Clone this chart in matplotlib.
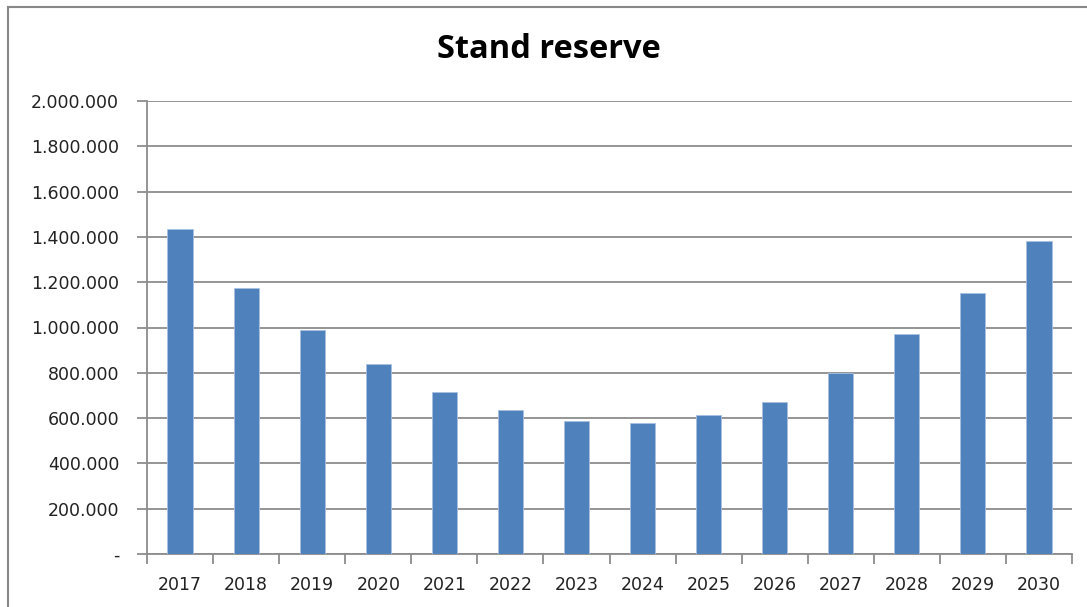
import matplotlib
matplotlib.use("Agg")
import matplotlib.pyplot as plt
from matplotlib.lines import Line2D
from matplotlib.ticker import FuncFormatter, FixedLocator

years = ["2017", "2018", "2019", "2020", "2021", "2022", "2023",
         "2024", "2025", "2026", "2027", "2028", "2029", "2030"]
reserve = [1434000, 1176000, 987000, 837000, 717000, 637000, 589000,
           580000, 615000, 673000, 798000, 973000, 1154000, 1380000]
y_ticks = [0, 200000, 400000, 600000, 800000, 1000000, 1200000,
           1400000, 1600000, 1800000, 2000000]

plt.rcParams['font.family'] = ['DejaVu Sans']

W, H = 1087, 607
fig = plt.figure(figsize=(W / 100, H / 100), dpi=100)
ax = fig.add_axes([147 / W, 1 - 554 / H, (1072 - 147) / W, (554 - 101) / H])

x = list(range(len(years)))
ax.bar(x, reserve, width=0.38, color="#4F81BD", edgecolor="#A9C1E0",
       linewidth=0.6, zorder=3)

ax.set_xlim(-0.5, len(years) - 0.5)
ax.set_ylim(0, 2000000)
ax.yaxis.set_major_locator(FixedLocator(y_ticks))


def fmt(v, pos):
    if v == 0:
        return "-"
    return f"{int(v):,}".replace(",", ".")


ax.yaxis.set_major_formatter(FuncFormatter(fmt))
ax.set_xticks(x)
ax.set_xticklabels(years)
ax.set_xticks([i + 0.5 for i in range(-1, len(years))], minor=True)

grid_c = "#8C8C8C"
ax.grid(axis="y", color=grid_c, linewidth=1.3, zorder=0)
for s in ["top", "right"]:
    ax.spines[s].set_visible(False)
for s in ["left", "bottom"]:
    ax.spines[s].set_color(grid_c)
    ax.spines[s].set_linewidth(1.3)

ax.tick_params(axis="y", length=7, width=1.3, color=grid_c, labelsize=12.5,
               pad=13, labelcolor="#222222")
ax.tick_params(axis="x", which="major", length=0, labelsize=12.5, pad=16,
               labelcolor="#222222")
ax.tick_params(axis="x", which="minor", length=7, width=1.3, color=grid_c)

fig.text(549 / W, 1 - 49 / H, "Stand reserve", ha="center", va="center",
         fontsize=23.5, fontweight="bold", color="black",
         family=["Open Sans", "DejaVu Sans"])

# chart border (top and left)
fig.add_artist(Line2D([7.5 / W, 1.0], [1 - 6.5 / H, 1 - 6.5 / H],
                      color="#888888", linewidth=1.5))
fig.add_artist(Line2D([7.5 / W, 7.5 / W], [0, 1 - 6.5 / H],
                      color="#888888", linewidth=1.5))

fig.savefig("out.png", dpi=100)
